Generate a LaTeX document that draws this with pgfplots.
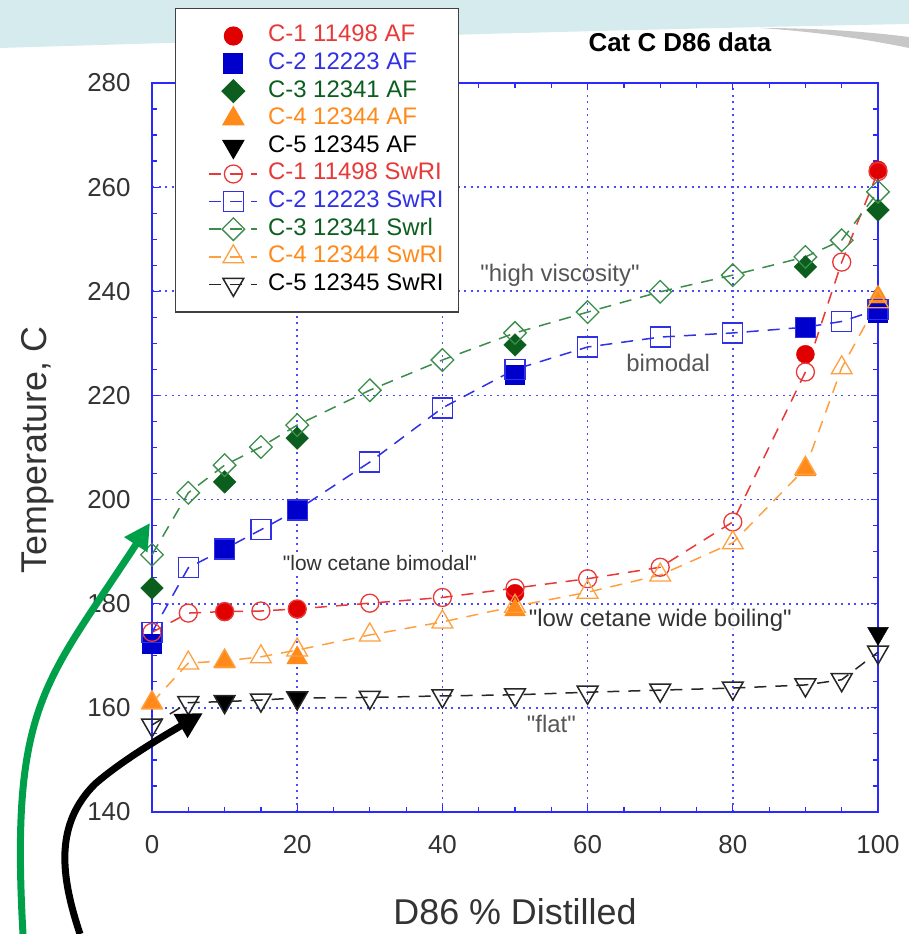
\documentclass[border=0pt]{standalone}
\usepackage{pgfplots}
\pgfplotsset{compat=1.18}
\usepackage{fontspec}
\setmainfont{Liberation Sans}
\newfontfamily\qf{Liberation Sans}
\usetikzlibrary{arrows.meta}
\definecolor{cred}{HTML}{E00000}
\definecolor{credl}{HTML}{E83838}
\definecolor{cblue}{HTML}{0000CC}
\definecolor{cbluel}{HTML}{3030E6}
\definecolor{cgreen}{HTML}{0B5E1E}
\definecolor{cgreenl}{HTML}{3C8C4C}
\definecolor{corange}{HTML}{FF8A1A}
\definecolor{corangel}{HTML}{FFA040}
\definecolor{axblue}{HTML}{2A2AFF}
\definecolor{gridblue}{HTML}{4A4AFF}
\definecolor{bgblue}{HTML}{D6EBEE}
\definecolor{txtgray}{HTML}{333333}
\definecolor{anngray}{HTML}{555555}
\definecolor{arrgreen}{HTML}{00A04A}
\newcommand{\q}{{\qf\symbol{34}}}
\pgfplotsset{
  myleg/.style={legend image code/.code={\path (0bp,0bp); \draw[mark repeat=2,mark phase=2,##1] plot coordinates {(20bp,0bp) (44bp,0bp) (68bp,0bp)};}},
  af/.style={only marks, myleg},
  sw/.style={dash pattern=on 12bp off 9bp, line width=1.5bp, myleg},
}
\begin{document}
\begin{tikzpicture}[x=1bp,y=1bp]
\path[use as bounding box] (0,0) rectangle (909,934);
\fill[bgblue] (0,934) -- (909,934) -- (909,910) .. controls (600,904) and (300,895) .. (0,886) -- cycle;
\fill[black!22] (760,906) .. controls (820,906) and (870,902) .. (909,897) -- (909,886) .. controls (870,894) and (820,902) .. (760,906) -- cycle;
\begin{axis}[
  at={(152bp,122bp)}, anchor=south west,
  scale only axis, width=726bp, height=729bp,
  xmin=0, xmax=100, ymin=140, ymax=280,
  xtick={0,20,...,100}, ytick={140,160,...,280},
  minor x tick num=3, minor y tick num=3,
  major tick length=7bp, minor tick length=5bp,
  tick style={axblue, line width=1.2bp},
  axis line style={axblue, line width=1.5bp},
  grid=major,
  major grid style={gridblue, line width=1.6bp, dash pattern=on 2bp off 4.5bp},
  /pgf/number format/assume math mode=true,
  ticklabel style={font=\fontsize{26}{30}\selectfont, text=txtgray},
  xticklabel style={yshift=-20bp},
  yticklabel style={xshift=-18bp},
  xlabel={D86 \% Distilled},
  ylabel={Temperature, C},
  label style={font=\fontsize{36}{40}\selectfont, text=txtgray},
  xlabel style={at={(axis description cs:0.5,-0.137)}, anchor=center},
  ylabel style={at={(axis description cs:-0.158,0.497)}, anchor=center},
  clip=false,
  myleg,
  legend cell align=left,
  legend style={at={(axis description cs:0.0317,1.103)}, anchor=north west,
    draw=black!75, line width=1.2bp, fill=white,
    font=\fontsize{24}{28}\selectfont,
    inner xsep=13bp, inner ysep=15bp, row sep=2.6bp, column sep=8bp,
    nodes={inner ysep=1.5bp, text height=17bp, text depth=5bp}},
]
% AF (filled)
\addplot[af, cred, mark=*, mark size=9bp] coordinates {(10,178.4) (20,178.9) (50,182.0) (90,227.9) (100,263.3)};
\addlegendentry{\textcolor{credl}{C-1 11498 AF}}
\addplot[af, cblue, mark=square*, mark size=9.5bp] coordinates {(0,172.3) (10,190.3) (20,198.0) (50,224.0) (90,233.1) (100,235.8)};
\addlegendentry{\textcolor{cbluel}{C-2 12223 AF}}
\addplot[af, cgreen, mark=square*, mark size=8bp, mark options={rotate=45}] coordinates {(0,183.0) (10,203.4) (20,211.8) (50,229.7) (90,244.7) (100,255.6)};
\addlegendentry{\textcolor{cgreen}{C-3 12341 AF}}
\addplot[af, corange, mark=triangle*, mark size=12bp] coordinates {(0,160.9) (10,168.8) (20,169.6) (50,178.8) (90,205.7) (100,238.9)};
\addlegendentry{\textcolor{corange}{C-4 12344 AF}}
\addplot[af, black, mark=triangle*, mark size=12bp, mark options={rotate=180}] coordinates {(10,161.2) (20,161.9) (100,174.3)};
\addlegendentry{\textcolor{black}{C-5 12345 AF}}
% SwRI (open, dashed)
\addplot[sw, credl, mark=o, mark size=9bp, mark options={solid, line width=1.3bp}] coordinates {(0,174.5) (5,178.2) (10,178.5) (15,178.6) (20,179.0) (30,180.1) (40,181.2) (50,183.0) (60,184.8) (70,187.0) (80,195.7) (90,224.5) (95,245.6) (100,263.0)};
\addlegendentry{\textcolor{credl}{C-1 11498 SwRI}}
\addplot[sw, cbluel, mark=square, mark size=10bp, mark options={solid, line width=1.3bp}] coordinates {(0,174.5) (5,186.9) (10,190.5) (15,194.2) (20,198.0) (30,207.2) (40,217.6) (50,225.0) (60,229.3) (70,231.2) (80,232.0) (90,233.1) (95,234.2) (100,236.5)};
\addlegendentry{\textcolor{cbluel}{C-2 12223 SwRI}}
\addplot[sw, cgreenl, mark=square, mark size=8bp, mark options={solid, line width=1.3bp, rotate=45}] coordinates {(0,189.4) (5,201.3) (10,206.6) (15,210.1) (20,214.3) (30,221.0) (40,226.8) (50,232.0) (60,236.0) (70,239.9) (80,243.1) (90,246.6) (95,249.8) (100,259.1)};
\addlegendentry{\textcolor{cgreen}{C-3 12341 Swrl}}
\addplot[sw, corangel, mark=triangle, mark size=12bp, mark options={solid, line width=1.3bp}] coordinates {(0,161.0) (5,168.6) (10,169.0) (15,169.8) (20,171.1) (30,174.0) (40,176.5) (50,179.5) (60,182.2) (70,185.5) (80,191.7) (90,206.0) (95,225.3) (100,238.0)};
\addlegendentry{\textcolor{corange}{C-4 12344 SwRI}}
\addplot[sw, black!85, mark=triangle, mark size=12bp, mark options={solid, line width=1.5bp, rotate=180}] coordinates {(0,156.7) (5,161.0) (10,161.2) (15,161.5) (20,161.9) (30,162.0) (40,162.3) (50,162.5) (60,163.0) (70,163.4) (80,163.8) (90,164.4) (95,165.4) (100,170.7)};
\addlegendentry{\textcolor{black}{C-5 12345 SwRI}}
% annotations
\node[font=\fontsize{24}{28}\selectfont, text=anngray] at (axis cs:56.2,243.1) {\q high viscosity\q};
\node[font=\fontsize{24}{28}\selectfont, text=anngray] at (axis cs:71.1,226.2) {bimodal};
\node[font=\fontsize{21}{25}\selectfont, text=txtgray, fill=white, inner sep=1bp] at (axis cs:31.4,187.8) {\q low cetane bimodal\q};
\node[font=\fontsize{24}{28}\selectfont, text=txtgray, fill=white, fill opacity=0.8, text opacity=1, inner sep=1bp] at (axis cs:70,176.9) {\q low cetane wide boiling\q};
\node[font=\fontsize{24}{28}\selectfont, text=anngray] at (axis cs:55,156.9) {\q flat\q};
\end{axis}
\node[font=\bfseries\fontsize{26}{30}\selectfont] at (680,892) {Cat C D86 data};
\draw[arrgreen, line width=7bp, -{Triangle[length=26bp,width=26bp]}] (23,0) .. controls (10,230) and (45,250) .. (150,411);
\draw[black, line width=7bp, -{Triangle[length=26bp,width=26bp]}] (80,0) .. controls (60,60) and (55,110) .. (95,150) .. controls (120,172) and (160,196) .. (203,221);
\end{tikzpicture}
\end{document}
